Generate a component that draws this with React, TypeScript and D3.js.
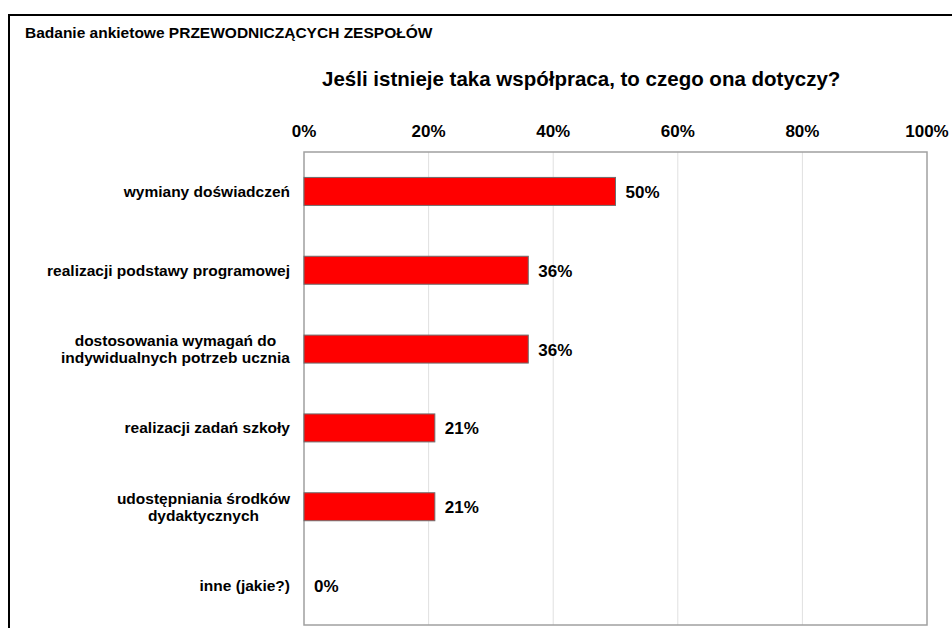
import { useEffect, useRef } from 'react';
import * as d3 from 'd3';

const categories = [
  ['wymiany doświadczeń'],
  ['realizacji podstawy programowej'],
  ['dostosowania wymagań do', 'indywidualnych potrzeb ucznia'],
  ['realizacji zadań szkoły'],
  ['udostępniania środków', 'dydaktycznych'],
  ['inne (jakie?)'],
];
const values = [50, 36, 36, 21, 21, 0];
const ticks = [0, 20, 40, 60, 80, 100];

const surveyTitle = 'Badanie ankietowe PRZEWODNICZĄCYCH ZESPOŁÓW';
const chartTitle = 'Jeśli istnieje taka współpraca, to czego ona dotyczy?';

export default function App() {
  const ref = useRef<SVGSVGElement>(null);

  useEffect(() => {
    if (!ref.current) return;
    document.body.style.margin = '0';
    const svg = d3.select(ref.current);
    svg.selectAll('*').remove();

    const font = '"Liberation Sans", Arial, sans-serif';
    const plot = { left: 304, right: 927, top: 152, bottom: 625 };

    const x = d3.scaleLinear().domain([0, 100]).range([plot.left, plot.right]);
    const y = d3.scaleBand<number>()
      .domain(d3.range(categories.length))
      .range([plot.top, plot.bottom])
      .paddingInner(0.645)
      .paddingOuter(0.3225);

    // outer frame (runs off the window on the right and bottom)
    svg.append('rect')
      .attr('x', 9).attr('y', 15)
      .attr('width', 1000).attr('height', 700)
      .attr('fill', 'white')
      .attr('stroke', '#000').attr('stroke-width', 2);

    svg.append('text')
      .attr('x', 25).attr('y', 38)
      .style('font-family', font).style('font-size', '15.5px').style('font-weight', 'bold')
      .text(surveyTitle);

    svg.append('text')
      .attr('x', 322).attr('y', 86)
      .style('font-family', font).style('font-size', '20.5px').style('font-weight', 'bold')
      .text(chartTitle);

    // gridlines
    svg.append('g').selectAll('line')
      .data(ticks.slice(1, -1))
      .join('line')
      .attr('x1', d => x(d)).attr('x2', d => x(d))
      .attr('y1', plot.top).attr('y2', plot.bottom)
      .attr('stroke', '#e0e0e0').attr('stroke-width', 1);

    // plot border
    svg.append('rect')
      .attr('x', plot.left).attr('y', plot.top)
      .attr('width', plot.right - plot.left).attr('height', plot.bottom - plot.top)
      .attr('fill', 'none')
      .attr('stroke', '#a0a0a0').attr('stroke-width', 1.5);

    // tick labels above the plot
    svg.append('g').selectAll('text')
      .data(ticks)
      .join('text')
      .attr('x', d => x(d)).attr('y', 137)
      .attr('text-anchor', 'middle')
      .style('font-family', font).style('font-size', '17px').style('font-weight', 'bold')
      .text(d => `${d}%`);

    // bars
    svg.append('g').selectAll('rect')
      .data(values.map((v, i) => ({ v, i })).filter(d => d.v > 0))
      .join('rect')
      .attr('x', x(0))
      .attr('y', d => y(d.i)!)
      .attr('width', d => x(d.v) - x(0))
      .attr('height', y.bandwidth())
      .attr('fill', '#ff0000')
      .attr('stroke', '#6e6e6e').attr('stroke-width', 1);

    // value labels
    svg.append('g').selectAll('text')
      .data(values)
      .join('text')
      .attr('x', d => x(d) + 10)
      .attr('y', (_, i) => y(i)! + y.bandwidth() / 2 + 6.5)
      .style('font-family', font).style('font-size', '17px').style('font-weight', 'bold')
      .text(d => `${d}%`);

    // category labels: block right-aligned, lines centred inside the block
    const labelRight = 290;
    const lineH = 16.7;
    categories.forEach((lines, i) => {
      const cy = y(i)! + y.bandwidth() / 2;
      const t = svg.append('text')
        .style('font-family', font).style('font-size', '15.5px').style('font-weight', 'bold')
        .attr('text-anchor', 'middle');
      lines.forEach((ln, j) => {
        t.append('tspan').attr('y', cy + (j - (lines.length - 1) / 2) * lineH + 5.5).text(ln);
      });
      const widths = t.selectAll<SVGTSpanElement, unknown>('tspan').nodes().map(n => n.getComputedTextLength());
      const w = d3.max(widths) || 0;
      t.selectAll('tspan').attr('x', labelRight - w / 2);
    });
  }, []);

  return <svg ref={ref} width={952} height={628} style={{ display: 'block' }} />;
}
